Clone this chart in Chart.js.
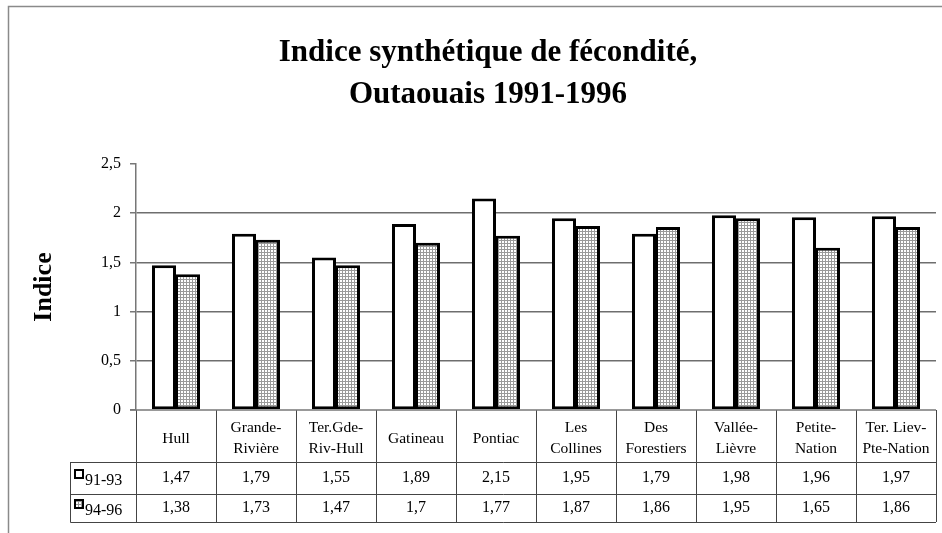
<!DOCTYPE html>
<html>
<head>
<meta charset="utf-8">
<script src="https://cdn.jsdelivr.net/npm/chart.js@4.4.1/dist/chart.umd.min.js"></script>
<style>
  html, body { margin: 0; padding: 0; background: #fff; }
  canvas { display: block; }
</style>
</head>
<body>
<canvas id="c" width="942" height="533"></canvas>
<script>
// ---- Data ----
const categories = [
  ['Hull'], ['Grande-', 'Rivière'], ['Ter.Gde-', 'Riv-Hull'], ['Gatineau'], ['Pontiac'],
  ['Les', 'Collines'], ['Des', 'Forestiers'], ['Vallée-', 'Lièvre'], ['Petite-', 'Nation'], ['Ter. Liev-', 'Pte-Nation']
];
const seriesNames = ['91-93', '94-96'];
const values9193 = [1.47, 1.79, 1.55, 1.89, 2.15, 1.95, 1.79, 1.98, 1.96, 1.97];
const values9496 = [1.38, 1.73, 1.47, 1.70, 1.77, 1.87, 1.86, 1.95, 1.65, 1.86];
const titleLines = ['Indice synthétique de fécondité,', 'Outaouais 1991-1996'];
const yTitle = 'Indice';
const yTicks = [0, 0.5, 1, 1.5, 2, 2.5];

const SERIF = "'Liberation Serif', 'Times New Roman', serif";
const fmt = v => String(v).replace('.', ',');

// hatched pattern
function makePattern() {
  const c = document.createElement('canvas');
  c.width = 3; c.height = 3;
  const g = c.getContext('2d');
  g.fillStyle = '#fff'; g.fillRect(0, 0, 3, 3);
  g.fillStyle = '#9a9a9a';
  g.fillRect(0, 0, 3, 1);
  g.fillRect(0, 0, 1, 3);
  return g.createPattern(c, 'repeat');
}
const hatch = makePattern();

const tablePlugin = {
  id: 'tablePlugin',
  beforeDraw(chart) {
    const ctx = chart.ctx;
    ctx.save();
    ctx.fillStyle = '#fff';
    ctx.fillRect(0, 0, chart.width, chart.height);
    ctx.strokeStyle = '#8a8a8a';
    ctx.lineWidth = 1.5;
    ctx.beginPath();
    ctx.moveTo(8.5, chart.height);
    ctx.lineTo(8.5, 6.5);
    ctx.lineTo(chart.width, 6.5);
    ctx.stroke();
    ctx.restore();
  },
  afterDraw(chart) {
    const ctx = chart.ctx;
    const xs = chart.scales.x;
    const area = chart.chartArea;
    const n = categories.length;
    const half = (xs.getPixelForValue(1) - xs.getPixelForValue(0)) / 2;
    const top = area.bottom;
    const hdrBottom = top + 52;
    const r1Bottom = top + 84;
    const r2Bottom = top + 112;
    const leftCol = 70.5;
    ctx.save();
    // table lines
    ctx.strokeStyle = '#444';
    ctx.lineWidth = 1;
    ctx.beginPath();
    [hdrBottom, r1Bottom, r2Bottom].forEach(y => {
      ctx.moveTo(leftCol, Math.round(y) + 0.5);
      ctx.lineTo(area.right, Math.round(y) + 0.5);
    });
    for (let i = 0; i <= n; i++) {
      const x = Math.round(i < n ? xs.getPixelForValue(i) - half : xs.getPixelForValue(n - 1) + half) + 0.5;
      ctx.moveTo(x, top);
      ctx.lineTo(x, r2Bottom);
    }
    ctx.moveTo(leftCol, hdrBottom);
    ctx.lineTo(leftCol, r2Bottom + 0.5);
    ctx.stroke();
    // axis line at zero
    ctx.strokeStyle = '#777';
    ctx.lineWidth = 1.5;
    ctx.beginPath();
    ctx.moveTo(area.left - 6, top);
    ctx.lineTo(area.right, top);
    ctx.stroke();

    // legend keys and values
    const rows = [
      { name: seriesNames[0], vals: values9193, fill: '#fff', mid: (hdrBottom + r1Bottom) / 2 },
      { name: seriesNames[1], vals: values9496, fill: hatch, mid: (r1Bottom + r2Bottom) / 2 }
    ];
    rows.forEach(r => {
      const ky = r.mid - 9;
      ctx.fillStyle = r.fill;
      ctx.fillRect(74, ky, 10, 10);
      ctx.strokeStyle = '#000';
      ctx.lineWidth = 2;
      ctx.strokeRect(75, ky + 1, 8, 8);
      ctx.fillStyle = '#000';
      ctx.textAlign = 'left';
      ctx.textBaseline = 'middle';
      ctx.font = '16px ' + SERIF;
      ctx.fillText(r.name, 85, r.mid + 3);
      ctx.textAlign = 'center';
      r.vals.forEach((v, i) => {
        ctx.fillText(fmt(v), xs.getPixelForValue(i), r.mid);
      });
    });
    ctx.restore();
  }
};

new Chart(document.getElementById('c'), {
  type: 'bar',
  data: {
    labels: categories,
    datasets: [
      {
        label: seriesNames[0],
        data: values9193,
        backgroundColor: '#fff',
        borderColor: '#000',
        borderWidth: 3,
        borderSkipped: false
      },
      {
        label: seriesNames[1],
        data: values9496,
        backgroundColor: hatch,
        borderColor: '#000',
        borderWidth: { top: 3, right: 3, bottom: 3, left: 2 },
        borderSkipped: false
      }
    ]
  },
  options: {
    responsive: false,
    animation: false,
    devicePixelRatio: 1,
    categoryPercentage: 0.6,
    barPercentage: 1,
    layout: { padding: { left: 40, right: 6, top: 0, bottom: 11 } },
    plugins: {
      legend: { display: false },
      tooltip: { enabled: false },
      title: {
        display: true,
        text: titleLines,
        color: '#000',
        font: { family: SERIF, size: 31, weight: 'bold', lineHeight: 1.355 },
        padding: { top: 32, bottom: 48 }
      }
    },
    scales: {
      x: {
        grid: { display: false, drawTicks: false },
        border: { display: false },
        ticks: {
          color: '#000',
          font: { family: SERIF, size: 15.5, lineHeight: 1.36 },
          crossAlign: 'center',
          padding: 18,
          maxRotation: 0,
          autoSkip: false
        },
        afterFit(scale) {
          scale.height = 112;
          scale.paddingLeft = 0;
          scale.paddingRight = 0;
        }
      },
      y: {
        min: 0,
        max: 2.5,
        afterBuildTicks(scale) { scale.ticks = yTicks.map(v => ({ value: v })); },
        ticks: {
          color: '#000',
          font: { family: SERIF, size: 16 },
          padding: 9,
          callback: v => fmt(v)
        },
        grid: {
          color: c => (c.tick && (c.tick.value === 2.5 || c.tick.value === 0)) ? 'rgba(0,0,0,0)' : '#6e6e6e',
          tickColor: '#777',
          tickLength: 6,
          lineWidth: 1.5
        },
        border: { color: '#777', width: 1.5 },
        title: {
          display: true,
          text: yTitle,
          color: '#000',
          font: { family: SERIF, size: 26, weight: 'bold' },
          padding: { top: -11, bottom: 0 }
        },
        afterFit(scale) { scale.width = 96; }
      }
    }
  },
  plugins: [tablePlugin]
});
</script>
</body>
</html>
